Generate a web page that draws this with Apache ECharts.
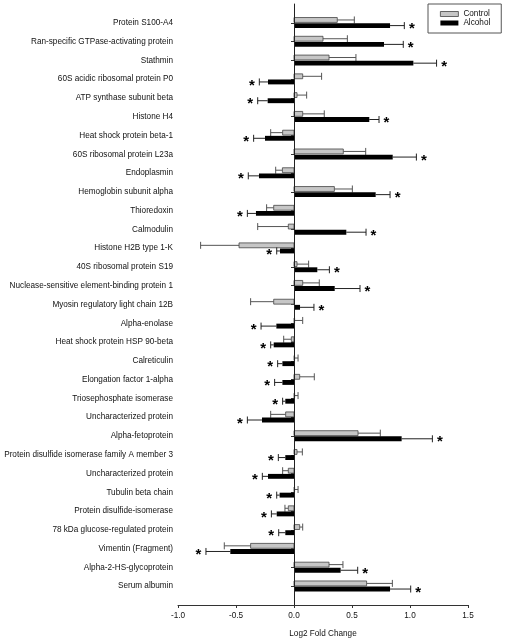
<!DOCTYPE html>
<html>
<head>
<meta charset="utf-8">
<script src="https://cdn.jsdelivr.net/npm/echarts@6/dist/echarts.min.js"></script>
<style>html,body{margin:0;padding:0;background:#fff;}#c{width:505px;height:643px;}</style>
</head>
<body>
<div id="c"></div>
<script>
const categories = [
  'Protein S100-A4',
  'Ran-specific GTPase-activating protein',
  'Stathmin',
  '60S acidic ribosomal protein P0',
  'ATP synthase subunit beta',
  'Histone H4',
  'Heat shock protein beta-1',
  '60S ribosomal protein L23a',
  'Endoplasmin',
  'Hemoglobin subunit alpha',
  'Thioredoxin',
  'Calmodulin',
  'Histone H2B type 1-K',
  '40S ribosomal protein S19',
  'Nuclease-sensitive element-binding protein 1',
  'Myosin regulatory light chain 12B',
  'Alpha-enolase',
  'Heat shock protein HSP 90-beta',
  'Calreticulin',
  'Elongation factor 1-alpha',
  'Triosephosphate isomerase',
  'Uncharacterized protein',
  'Alpha-fetoprotein',
  'Protein disulfide isomerase family A member 3',
  'Uncharacterized protein ',
  'Tubulin beta chain',
  'Protein disulfide-isomerase',
  '78 kDa glucose-regulated protein',
  'Vimentin (Fragment)',
  'Alpha-2-HS-glycoprotein',
  'Serum albumin'
];
const controlValues = [0.373, 0.25, 0.302, 0.075, 0.026, 0.075, -0.098, 0.425, -0.10, 0.348, -0.175, -0.049, -0.474, 0.026, 0.075, -0.175, 0.005, -0.023, 0.005, 0.049, 0.005, -0.072, 0.552, 0.026, -0.049, 0.005, -0.049, 0.049, -0.374, 0.302, 0.626];
const controlErrors = [0.147, 0.21, 0.232, 0.163, 0.083, 0.186, 0.103, 0.193, 0.058, 0.155, 0.061, 0.264, 0.331, 0.10, 0.143, 0.199, 0.07, 0.066, 0.03, 0.126, 0.03, 0.129, 0.192, 0.046, 0.049, 0.03, 0.029, 0.026, 0.227, 0.12, 0.222];
const alcoholValues = [0.828, 0.776, 1.029, -0.224, -0.227, 0.649, -0.25, 0.851, -0.302, 0.704, -0.328, 0.451, -0.121, 0.201, 0.351, 0.052, -0.152, -0.175, -0.10, -0.10, -0.075, -0.276, 0.928, -0.075, -0.224, -0.124, -0.149, -0.075, -0.549, 0.402, 0.828];
const alcoholErrors = [0.123, 0.166, 0.20, 0.075, 0.086, 0.084, 0.098, 0.204, 0.092, 0.124, 0.074, 0.17, 0.028, 0.104, 0.218, 0.12, 0.132, 0.026, 0.041, 0.067, 0.023, 0.126, 0.265, 0.06, 0.049, 0.025, 0.046, 0.057, 0.21, 0.147, 0.178];
const alcoholSignificant = [1,1,1,1,1,1,1,1,1,1,1,1,1,1,1,1,1,1,1,1,1,1,1,1,1,1,1,1,1,1,1];

const FONT = 'Liberation Sans, Arial, sans-serif';
const FS = 8.2;
const axisCats = [''].concat(categories, ['']);

function makeRender(kind) {
  return function (params, api) {
    const v = api.value(0), idx = api.value(1), e = api.value(2), sig = api.value(3);
    const band = api.size([0, 1])[1];
    const p0 = api.coord([0, idx]);
    const p1 = api.coord([v, idx]);
    const dir = v < 0 ? -1 : 1;
    const pe = api.coord([v + dir * e, idx]);
    const c = p0[1];
    const h = band * 0.26;
    const top = kind === 'c' ? c - band * 0.28 : c + band * 0.02;
    const ey = top + h / 2;
    const x0 = Math.min(p0[0], p1[0]);
    const w = Math.abs(p1[0] - p0[0]);
    const children = [
      { type: 'line', shape: { x1: p1[0], y1: ey, x2: pe[0], y2: ey }, style: { stroke: kind === 'c' ? '#555' : '#222', lineWidth: 1 } },
      { type: 'line', shape: { x1: pe[0], y1: ey - 3.5, x2: pe[0], y2: ey + 3.5 }, style: { stroke: kind === 'c' ? '#555' : '#222', lineWidth: 1 } },
      { type: 'rect', shape: { x: x0, y: top, width: w, height: h },
        style: kind === 'c' ? { fill: '#c6c6c6', stroke: '#444', lineWidth: 0.8 } : { fill: '#000' } }
    ];
    if (kind === 'a' && sig) {
      children.push({ type: 'text', style: { text: '*', x: pe[0] + dir * 7.5, y: ey + 3.5, font: 'bold 15px ' + FONT, align: 'center', verticalAlign: 'middle', fill: '#000' } });
    }
    return { type: 'group', children: children };
  };
}

const controlData = controlValues.map((v, i) => [v, i + 1, controlErrors[i], 0]);
const alcoholData = alcoholValues.map((v, i) => [v, i + 1, alcoholErrors[i], alcoholSignificant[i]]);

const chart = echarts.init(document.getElementById('c'), null, { renderer: 'canvas' });
chart.setOption({
  animation: false,
  backgroundColor: '#fff',
  textStyle: { fontFamily: FONT },
  grid: { left: 178, right: 37, top: 4, bottom: 38, containLabel: false, outerBoundsMode: 'none' },
  legend: {
    left: 428, top: 4, orient: 'vertical',
    padding: [6, 11, 6, 12], itemGap: 1, itemWidth: 18, itemHeight: 5,
    borderColor: '#555', borderWidth: 1,
    textStyle: { fontSize: FS, color: '#111', fontFamily: FONT },
    data: [
      { name: 'Control', icon: 'rect', itemStyle: { color: '#c6c6c6', borderColor: '#444', borderWidth: 0.8 } },
      { name: 'Alcohol', icon: 'rect', itemStyle: { color: '#000' } }
    ]
  },
  xAxis: {
    type: 'value', min: -1, max: 1.5, interval: 0.5,
    name: 'Log2 Fold Change', nameLocation: 'middle', nameGap: 25,
    nameTextStyle: { fontSize: FS, color: '#111', fontFamily: FONT },
    axisLine: { show: true, lineStyle: { color: '#333', width: 1 } },
    axisTick: { show: true, length: 3, lineStyle: { color: '#333' } },
    axisLabel: { fontSize: FS, color: '#111', margin: 7, formatter: v => v.toFixed(1), fontFamily: FONT },
    splitLine: { show: false }
  },
  yAxis: {
    type: 'category', data: axisCats, inverse: true, boundaryGap: false,
    axisLine: { show: true, lineStyle: { color: '#333', width: 1 } },
    axisTick: { show: true, length: 3, interval: (i, v) => v !== '', lineStyle: { color: '#333' } },
    axisLabel: { interval: 0, fontSize: FS, color: '#111', margin: 5, fontFamily: FONT, formatter: v => String(v).trim() },
    splitLine: { show: false }
  },
  series: [
    {
      name: 'Control', type: 'custom', renderItem: makeRender('c'), data: controlData,
      itemStyle: { color: '#c6c6c6', borderColor: '#444' },
      encode: { x: 0, y: 1 },
      markLine: {
        silent: true, symbol: 'none', label: { show: false },
        lineStyle: { color: '#222', type: 'solid', width: 1 },
        data: [{ xAxis: 0 }]
      }
    },
    {
      name: 'Alcohol', type: 'custom', renderItem: makeRender('a'), data: alcoholData,
      itemStyle: { color: '#000' },
      encode: { x: 0, y: 1 }
    }
  ]
});
</script>
</body>
</html>
